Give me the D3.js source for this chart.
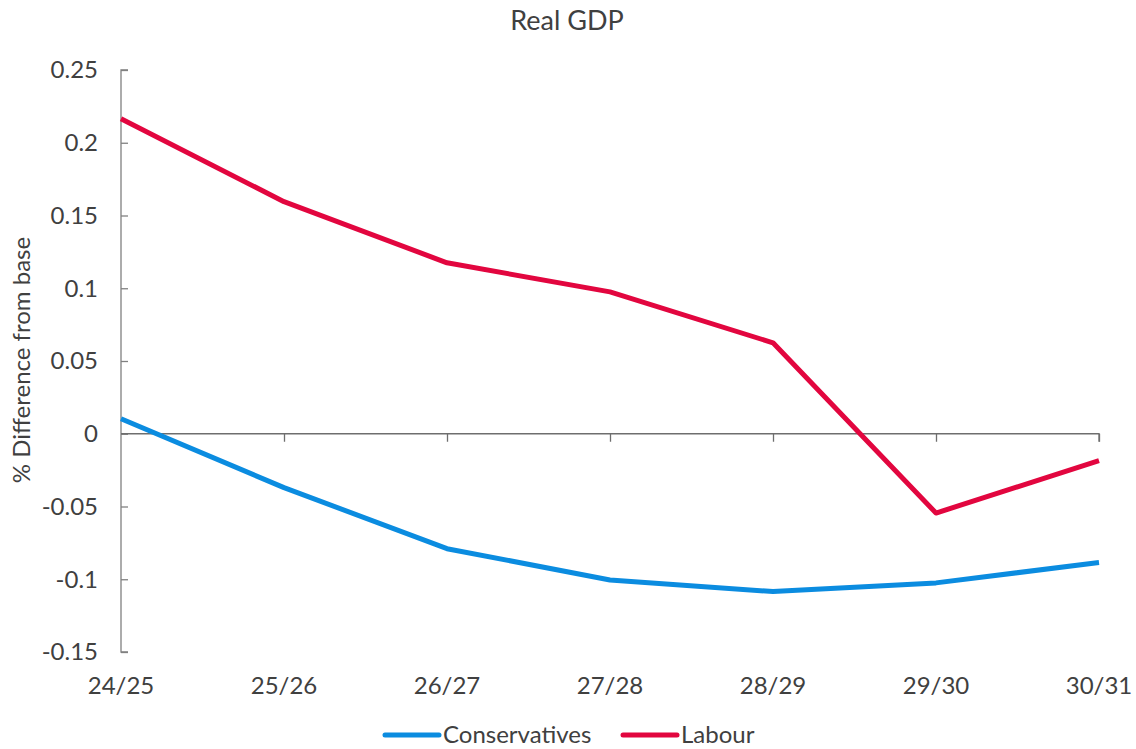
<!DOCTYPE html>
<html>
<head>
<meta charset="utf-8">
<script src="https://cdn.jsdelivr.net/npm/d3@7"></script>
<style>
  body { margin: 0; background: #fff; }
  text { font-family: Lato, "Open Sans", sans-serif; fill: #404040; }
</style>
</head>
<body>
<div id="chart"></div>
<script>
// data
const years = ["24/25", "25/26", "26/27", "27/28", "28/29", "29/30", "30/31"];
const conservatives = [0.0103, -0.037, -0.079, -0.1005, -0.1085, -0.1025, -0.0885];
const labour = [0.2165, 0.1595, 0.1175, 0.0975, 0.0625, -0.0545, -0.0185];
const yTicks = [0.25, 0.2, 0.15, 0.1, 0.05, 0, -0.05, -0.1, -0.15];

const series = [
  {name: "Conservatives", values: conservatives, color: "#0b8ce0"},
  {name: "Labour", values: labour, color: "#e2063f"}
];

const W = 1136, H = 749;
const margin = {top: 70, right: 37, bottom: 97, left: 121};

const svg = d3.select("#chart").append("svg")
    .attr("width", W)
    .attr("height", H);

const x = d3.scalePoint()
    .domain(years)
    .range([margin.left, W - margin.right]);

const y = d3.scaleLinear()
    .domain([-0.15, 0.25])
    .range([H - margin.bottom, margin.top]);

const fmt = d => d === 0 ? "0" : String(+d.toFixed(2));

// y axis (ticks point inward)
const yAxis = svg.append("g")
    .attr("transform", `translate(${margin.left},0)`)
    .call(d3.axisRight(y).tickValues(yTicks).tickSize(7).tickFormat(""));
yAxis.select(".domain").attr("stroke", "#808080").attr("stroke-width", 1.3)
    .attr("d", `M7,${y(0.25)}H0V${y(-0.15)}H7`);
yAxis.selectAll(".tick line").attr("stroke", "#808080").attr("stroke-width", 1.3);

svg.append("g")
  .selectAll("text")
  .data(yTicks)
  .join("text")
    .attr("x", 98)
    .attr("y", d => y(d))
    .attr("dy", "0.35em")
    .attr("text-anchor", "end")
    .style("font-size", "24px")
    .text(fmt);

// x axis along zero
const xAxis = svg.append("g")
    .attr("transform", `translate(0,${y(0)})`)
    .call(d3.axisBottom(x).tickSize(8).tickFormat(""));
xAxis.select(".domain").attr("stroke", "#6e6e6e").attr("stroke-width", 1.3)
    .attr("d", `M${x(years[0])},0H${x(years[years.length - 1])}V8`);
xAxis.selectAll(".tick line").attr("stroke", "#6e6e6e").attr("stroke-width", 1.3);
xAxis.selectAll(".tick").filter((d, i) => i === 0).remove();

svg.append("g")
  .selectAll("text")
  .data(years)
  .join("text")
    .attr("x", d => x(d))
    .attr("y", 686)
    .attr("dy", "0.35em")
    .attr("text-anchor", "middle")
    .style("font-size", "24px")
    .text(d => d);

// lines
const line = d3.line()
    .x((d, i) => x(years[i]))
    .y(d => y(d));

svg.append("g")
  .selectAll("path")
  .data(series)
  .join("path")
    .attr("fill", "none")
    .attr("stroke", d => d.color)
    .attr("stroke-width", 5)
    .attr("stroke-linejoin", "round")
    .attr("d", d => line(d.values));

// title
svg.append("text")
    .attr("x", 567)
    .attr("y", 21)
    .attr("dy", "0.35em")
    .attr("text-anchor", "middle")
    .style("font-size", "27px")
    .text("Real GDP");

// y label
svg.append("text")
    .attr("transform", "translate(22,360) rotate(-90)")
    .attr("dy", "0.35em")
    .attr("text-anchor", "middle")
    .style("font-size", "24px")
    .text("% Difference from base");

// legend
const legendX = [385, 623];
const legend = svg.append("g")
  .selectAll("g")
  .data(series)
  .join("g")
    .attr("transform", (d, i) => `translate(${legendX[i]},735)`);
legend.append("line")
    .attr("x1", 0).attr("x2", 54)
    .attr("stroke", d => d.color)
    .attr("stroke-width", 5)
    .attr("stroke-linecap", "round");
legend.append("text")
    .attr("x", 58)
    .attr("dy", "0.35em")
    .style("font-size", "24px")
    .text(d => d.name);
</script>
</body>
</html>
